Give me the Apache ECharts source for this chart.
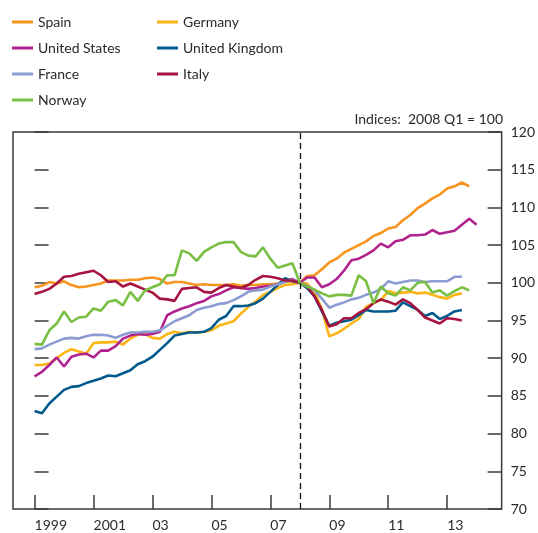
<!DOCTYPE html>
<html>
<head>
<meta charset="utf-8">
<script src="https://cdn.jsdelivr.net/npm/echarts@6/dist/echarts.min.js"></script>
<style>
  html, body { margin: 0; padding: 0; background: #fff; }
  #chart { width: 538px; height: 533px; }
</style>
</head>
<body>
<div id="chart"></div>
<script>
// quarterly index, 1999 Q1 = position 0, 2008 Q1 = 100
var spain = [99.4, 99.6, 100.1, 99.9, 100.2, 99.7, 99.4, 99.5, 99.7, 99.9, 100.3, 100.3, 100.3, 100.4, 100.4, 100.6,
    100.7, 100.5, 99.9, 100.1, 100.1, 99.9, 99.7, 99.8, 99.7, 99.7, 99.7, 99.8, 99.6, 99.7, 99.7, 99.8,
    99.8, 99.9, 100.1, 100.2, 100, 100.9, 101.0, 101.8, 102.7, 103.2, 104.0, 104.5, 105.0, 105.5, 106.2, 106.6,
    107.2, 107.4, 108.3, 109.0, 109.9, 110.5, 111.2, 111.7, 112.5, 112.8, 113.3, 112.8];
var germany = [89.1, 89.1, 89.3, 90.0, 90.7, 91.2, 90.9, 90.6, 92.0, 92.1, 92.1, 92.2, 91.8, 92.6, 93.1, 93.2,
    92.7, 92.6, 93.2, 93.5, 93.3, 93.5, 93.4, 93.5, 93.7, 94.3, 94.6, 94.9, 95.9, 96.8, 97.5, 98.4,
    98.8, 99.3, 99.7, 99.8, 100, 99.9, 98.8, 96.5, 92.9, 93.3, 93.9, 94.6, 95.2, 96.8, 97.3, 97.7,
    98.9, 98.6, 98.7, 98.8, 98.6, 98.7, 98.4, 98.1, 97.9, 98.4, 98.6];
var us = [87.6, 88.2, 89.1, 90.1, 88.9, 90.2, 90.5, 90.6, 90.1, 91.0, 91.0, 91.6, 92.6, 93.0, 93.2, 93.1,
    93.2, 93.5, 95.7, 96.2, 96.6, 96.9, 97.3, 97.6, 98.2, 98.5, 99.0, 99.4, 99.3, 99.2, 99.3, 99.5,
    99.6, 99.8, 100.2, 100.5, 100, 100.7, 100.7, 99.4, 99.8, 100.5, 101.6, 103.0, 103.2, 103.7, 104.3, 105.2,
    104.7, 105.5, 105.7, 106.3, 106.3, 106.4, 107.0, 106.5, 106.7, 106.9, 107.7, 108.5, 107.7];
var uk = [83.0, 82.7, 84.0, 84.9, 85.8, 86.2, 86.3, 86.7, 87.0, 87.3, 87.7, 87.6, 88.0, 88.4, 89.2, 89.6,
    90.2, 91.1, 92.0, 93.0, 93.2, 93.4, 93.4, 93.5, 94.0, 95.1, 95.6, 96.9, 96.9, 97.0, 97.3, 97.9,
    98.8, 99.7, 100.6, 100.2, 100, 99.3, 98.2, 96.2, 94.3, 94.7, 94.9, 95.1, 95.7, 96.4, 96.2, 96.2,
    96.2, 96.3, 97.4, 96.9, 96.4, 95.6, 96.0, 95.2, 95.6, 96.2, 96.4];
var france = [91.2, 91.3, 91.8, 92.2, 92.6, 92.7, 92.6, 92.9, 93.1, 93.1, 93.0, 92.7, 93.1, 93.4, 93.4, 93.5,
    93.5, 93.7, 94.3, 94.9, 95.3, 95.7, 96.4, 96.7, 96.9, 97.2, 97.3, 97.7, 98.2, 98.8, 99.0, 99.1,
    99.5, 99.8, 100.1, 100.4, 100, 99.6, 99.0, 97.9, 96.7, 97.1, 97.4, 97.8, 98.0, 98.4, 98.7, 99.2,
    100.2, 99.9, 100.1, 100.3, 100.3, 100.1, 100.2, 100.2, 100.2, 100.8, 100.8];
var italy = [98.5, 98.8, 99.2, 99.9, 100.8, 100.9, 101.2, 101.4, 101.6, 101.0, 100.1, 100.2, 99.5, 99.9, 99.5, 99.1,
    98.7, 97.9, 97.8, 97.6, 99.2, 99.3, 99.4, 98.8, 98.7, 99.3, 99.7, 99.5, 99.3, 99.7, 100.4, 100.9,
    100.8, 100.6, 100.3, 100.3, 100, 99.5, 98.2, 96.4, 94.2, 94.5, 95.3, 95.3, 96.0, 96.5, 97.3, 97.8,
    97.5, 97.1, 97.8, 97.3, 96.4, 95.4, 95.0, 94.6, 95.3, 95.2, 95.0];
var norway = [91.9, 91.8, 93.7, 94.6, 96.2, 94.8, 95.4, 95.5, 96.6, 96.3, 97.5, 97.7, 97.0, 98.8, 97.6, 99.0,
    99.4, 99.8, 101.0, 101.0, 104.3, 103.9, 102.9, 104.1, 104.7, 105.2, 105.4, 105.4, 104.1, 103.6, 103.5, 104.7,
    103.2, 102.0, 102.3, 102.6, 100, 99.5, 99.1, 98.6, 98.2, 98.4, 98.4, 98.3, 101.0, 100.2, 97.3, 99.5,
    98.6, 98.3, 99.4, 99.0, 100.0, 100.1, 98.7, 99.0, 98.3, 98.9, 99.4, 99.0];

var yearTicks = [0, 8, 16, 24, 32, 40, 48, 56];
var yearLabels = ['1999', '2001', '03', '05', '07', '09', '11', '13'];
var names = ['Spain', 'Germany', 'United States', 'United Kingdom', 'France', 'Italy', 'Norway'];
var colors = ['#f7941d', '#fdb515', '#b0238e', '#005a8c', '#8c9bd1', '#a6143f', '#78bf43'];
var allData = [spain, germany, us, uk, france, italy, norway];

var font = 'Lato';
var ink = '#2a2a2a';

function toPairs(arr) {
    return arr.map(function (v, i) { return [i, v]; });
}

var myChart = echarts.init(document.getElementById('chart'));

var series = names.map(function (n, k) {
    return {
        name: n,
        type: 'line',
        xAxisIndex: 0,
        yAxisIndex: 1,
        symbol: 'none',
        data: toPairs(allData[k]),
        lineStyle: { color: colors[k], width: 2.6 },
        itemStyle: { color: colors[k] },
        z: 3
    };
});
// dashed marker at 2008 Q1
series[0].markLine = {
    silent: true,
    symbol: 'none',
    label: { show: false },
    lineStyle: { color: '#111', type: [6, 4], width: 1.3 },
    data: [{ xAxis: 36 }]
};

var legendBase = {
    orient: 'vertical',
    icon: 'rect',
    itemWidth: 21,
    itemHeight: 3,
    itemGap: 10,
    selectedMode: false,
    textStyle: { fontFamily: font, fontSize: 14, color: ink, lineHeight: 16 }
};

var option = {
    animation: false,
    backgroundColor: '#fff',
    grid: {
        left: 13, right: 34, top: 132, bottom: 24,
        show: true, borderColor: '#3a3a3a', borderWidth: 1.5
    },
    legend: [
        Object.assign({}, legendBase, { left: 7, top: 9, data: ['Spain', 'United States', 'France', 'Norway'] }),
        Object.assign({}, legendBase, { left: 152, top: 9, data: ['Germany', 'United Kingdom', 'Italy'] })
    ],
    graphic: [{
        type: 'text',
        right: 35,
        top: 112,
        style: { text: 'Indices:  2008 Q1 = 100', fontFamily: font, fontSize: 14, fill: ink }
    }],
    xAxis: {
        type: 'value',
        min: -2.93,
        max: 63.4,
        splitLine: { show: false },
        axisLine: { show: false },
        axisTick: {
            inside: true, length: 14, customValues: yearTicks,
            lineStyle: { color: '#3a3a3a', width: 1.5 }
        },
        axisLabel: {
            customValues: yearTicks,
            align: 'left',
            margin: 9,
            fontFamily: font, fontSize: 14, color: ink,
            formatter: function (v) { return yearLabels[yearTicks.indexOf(v)]; }
        }
    },
    yAxis: [{
        type: 'value', position: 'left', min: 70, max: 120, interval: 5,
        splitLine: { show: false },
        axisLine: { show: false },
        axisTick: { inside: true, length: 14, lineStyle: { color: '#3a3a3a', width: 1.5 } },
        axisLabel: { show: false }
    }, {
        type: 'value', position: 'right', min: 70, max: 120, interval: 5,
        splitLine: { show: false },
        axisLine: { show: false },
        axisTick: { inside: true, length: 14, lineStyle: { color: '#3a3a3a', width: 1.5 } },
        axisLabel: { margin: 9, fontFamily: font, fontSize: 14, color: ink }
    }],
    series: series
};
myChart.setOption(option);
</script>
</body>
</html>
